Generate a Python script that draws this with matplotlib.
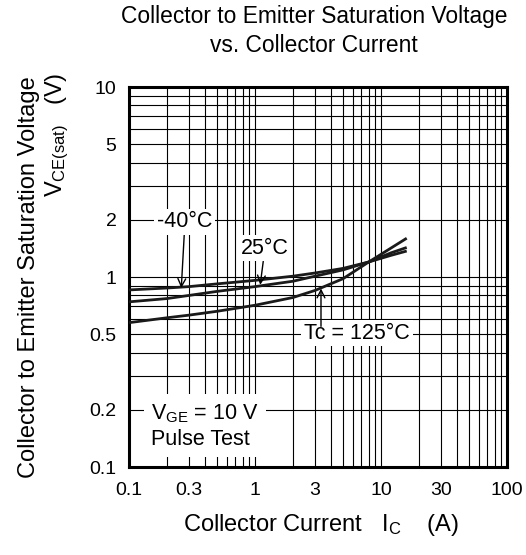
import matplotlib.pyplot as plt
import numpy as np

plt.rcParams['font.family'] = ['Liberation Sans', 'DejaVu Sans']
plt.rcParams['mathtext.fontset'] = 'custom'
plt.rcParams['mathtext.rm'] = 'Liberation Sans'

# collector current (A) and Vce(sat) (V)
ic = [0.1, 0.2, 0.3, 0.5, 1, 2, 3, 5, 8, 12, 16]
vce_m40 = [0.855, 0.875, 0.89, 0.92, 0.96, 1.01, 1.05, 1.11, 1.20, 1.30, 1.37]
vce_25 = [0.74, 0.77, 0.80, 0.84, 0.89, 0.95, 1.01, 1.09, 1.20, 1.34, 1.43]
vce_125 = [0.575, 0.61, 0.63, 0.66, 0.71, 0.78, 0.85, 0.98, 1.20, 1.42, 1.60]

xticks = [0.1, 0.3, 1, 3, 10, 30, 100]
xtick_labels = ['0.1', '0.3', '1', '3', '10', '30', '100']
yticks = [0.1, 0.2, 0.5, 1, 2, 5, 10]
ytick_labels = ['0.1', '0.2', '0.5', '1', '2', '5', '10']

fs_title = 16.4
fs_label = 17
fs_tick = 14
fs_note = 15.5

fig = plt.figure(figsize=(5.26, 5.55), dpi=100)
ax = fig.add_axes([129/526, 1-467/555, 378/526, 380/555])
ax.set_xscale('log')
ax.set_yscale('log')
ax.set_xlim(0.1, 100)
ax.set_ylim(0.1, 10)

ax.grid(True, which='both', color='black', lw=0.8)
ax.set_axisbelow(True)

for v in (vce_m40, vce_25, vce_125):
    ax.plot(ic, v, color='#1a1a1a', lw=2, solid_capstyle='butt', zorder=3)

ax.set_xticks(xticks)
ax.set_xticklabels(xtick_labels)
ax.set_yticks(yticks)
ax.set_yticklabels(ytick_labels)
ax.minorticks_on()
ax.tick_params(which='both', length=0, labelsize=fs_tick)
ax.tick_params(axis='x', pad=11)
ax.tick_params(axis='y', pad=9)
ax.tick_params(axis='y', which='minor', labelleft=False)
ax.tick_params(axis='x', which='minor', labelbottom=False)
for s in ax.spines.values():
    s.set_linewidth(2.2)

box = dict(facecolor='white', edgecolor='none', pad=2)
arrow = dict(arrowstyle='->', color='black', lw=1, shrinkA=0, shrinkB=0,
             mutation_scale=14)
ax.annotate('-40°C', xy=(0.26, 0.875), xytext=(0.278, 1.95), fontsize=fs_note,
            ha='center', va='center', bbox=box, arrowprops=arrow, zorder=4)
ax.annotate('25°C', xy=(1.1, 0.91), xytext=(1.2, 1.42), fontsize=fs_note,
            ha='center', va='center', bbox=box, arrowprops=arrow, zorder=4)
ax.annotate('Tc = 125°C', xy=(3.34, 0.87), xytext=(6.45, 0.507), fontsize=fs_note,
            ha='center', va='center', bbox=box, zorder=4)
ax.annotate('', xy=(3.34, 0.87), xytext=(3.34, 0.55), arrowprops=arrow, zorder=4)
ax.text(0.15, 0.164, '$\\mathregular{V_{GE}}$ = 10 V\nPulse Test', fontsize=fs_note,
        ha='left', va='center', linespacing=1.3,
        bbox=dict(facecolor='white', edgecolor='none', pad=5), zorder=4)

fig.text(314/526, 1-17/555, 'Collector to Emitter Saturation Voltage',
         fontsize=fs_title, ha='center', va='center')
fig.text(314/526, 1-45/555, 'vs. Collector Current',
         fontsize=fs_title, ha='center', va='center')
fig.text(321/526, 1-525/555, 'Collector Current   $\\mathregular{I_C}$    (A)',
         fontsize=fs_label, ha='center', va='center')
fig.text(29/526, 1-277/555, 'Collector to Emitter Saturation Voltage',
         fontsize=fs_label, ha='center', va='center', rotation=90)
fig.text(57/526, 1-73/555, '$\\mathregular{V_{CE(sat)}}$   (V)',
         fontsize=fs_label, ha='center', va='top', rotation=90)

fig.savefig('out.png', dpi=100)
